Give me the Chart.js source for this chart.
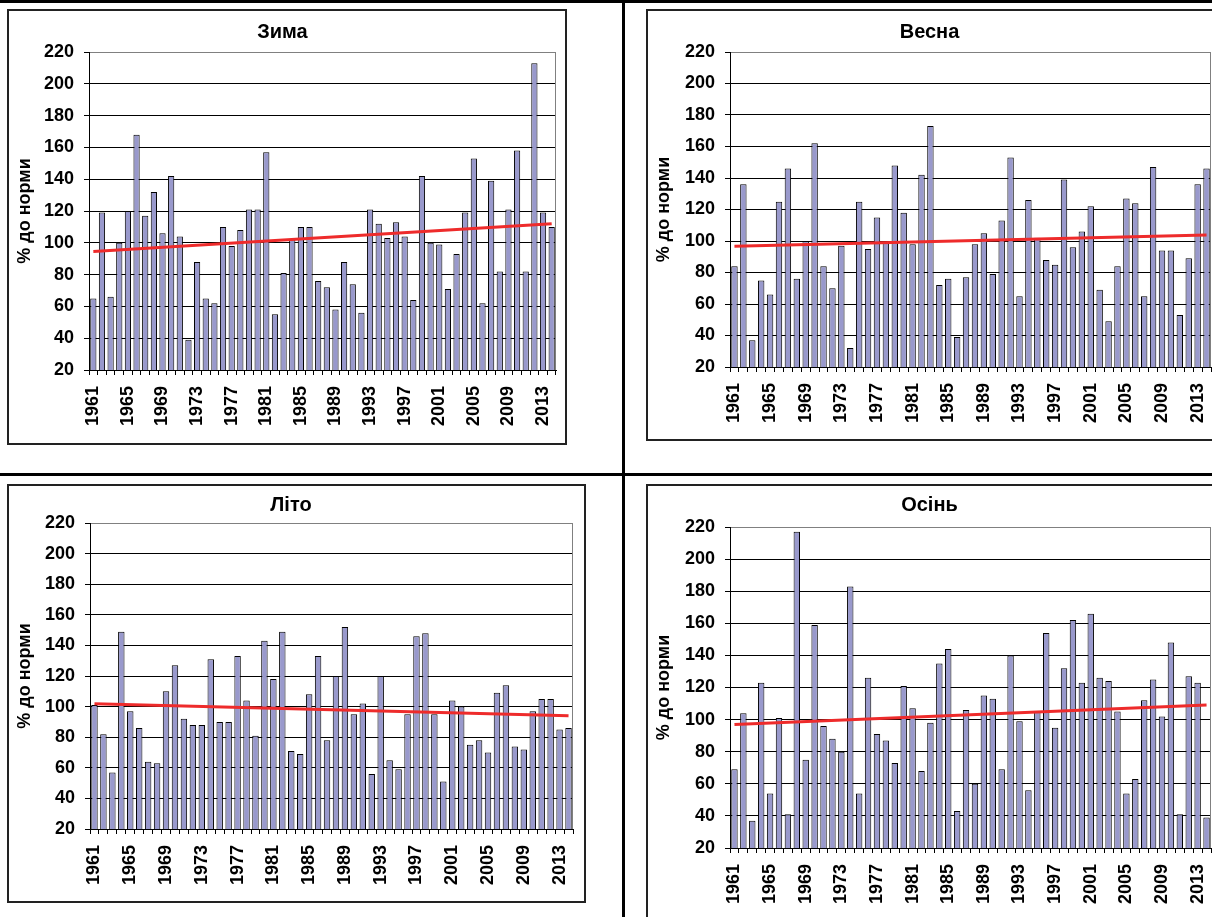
<!DOCTYPE html>
<html>
<head>
<meta charset="utf-8">
<script src="https://cdn.jsdelivr.net/npm/chart.js@4.4.1/dist/chart.umd.min.js"></script>
<style>
  html, body { margin: 0; padding: 0; background: #fff; }
  body { width: 1212px; height: 917px; overflow: hidden; position: relative; }
  .rule { position: absolute; background: #000; }
  .panel { position: absolute; border: 2px solid #222; background: #fff; }
  .panel canvas { display: block; }
</style>
</head>
<body>
<div class="rule" style="left:0;top:0;width:1212px;height:3px"></div>
<div class="rule" style="left:0;top:473px;width:1212px;height:3px"></div>
<div class="rule" style="left:622px;top:0;width:3px;height:917px"></div>

<div class="panel" style="left:7px;top:9px"><canvas id="winter" width="556" height="432"></canvas></div>
<div class="panel" style="left:646px;top:9px"><canvas id="spring" width="572" height="428"></canvas></div>
<div class="panel" style="left:7px;top:484px"><canvas id="summer" width="575" height="415"></canvas></div>
<div class="panel" style="left:646px;top:484px"><canvas id="autumn" width="572" height="434"></canvas></div>

<script>
// роки 1961-2014
const years = ['1961','1962','1963','1964','1965','1966','1967','1968','1969','1970',
  '1971','1972','1973','1974','1975','1976','1977','1978','1979','1980',
  '1981','1982','1983','1984','1985','1986','1987','1988','1989','1990',
  '1991','1992','1993','1994','1995','1996','1997','1998','1999','2000',
  '2001','2002','2003','2004','2005','2006','2007','2008','2009','2010',
  '2011','2012','2013','2014'];

// % до норми по сезонах
const winterValues = [65,119,66,100,120,168,117,132,106,142,104,39,88,65,62,110,98,108,121,121,
  157,55,81,102,110,110,76,72,58,88,74,56,121,112,103,113,104,64,142,100,
  99,71,93,119,153,62,139,82,121,158,82,213,119,110];
const springValues = [84,136,37,75,66,125,146,76,100,162,84,70,97,32,125,95,115,99,148,118,
  98,142,173,72,76,39,77,98,105,79,113,153,65,126,102,88,85,139,96,106,
  122,69,49,84,127,124,65,147,94,94,53,89,136,146];
const summerValues = [101,82,57,149,97,86,64,63,110,127,92,88,88,131,90,90,133,104,81,143,
  118,149,71,69,108,133,78,120,152,95,102,56,120,65,59,95,146,148,95,51,
  104,100,75,78,70,109,114,74,72,97,105,105,85,86];
const autumnValues = [69,104,37,123,54,101,41,217,75,159,96,88,80,183,54,126,91,87,73,121,
  107,68,98,135,144,43,106,60,115,113,69,140,99,56,105,154,95,132,162,123,
  166,126,124,105,54,63,112,125,102,148,41,127,123,39];

// лінійний тренд: значення на початку і в кінці періоду
const winterTrend = [94.5, 112];
const springTrend = [96.6, 103.8];
const summerTrend = [101.8, 94];
const autumnTrend = [96.9, 109.1];

const yTicks = [20, 220, 20]; // min, max, крок

Chart.defaults.font.family = 'Arial, "Liberation Sans", sans-serif';
Chart.defaults.font.weight = 'bold';
Chart.defaults.color = '#000';

// сіра рамка області побудови справа
const plotFrame = {
  id: 'plotFrame',
  beforeDatasetsDraw(chart) {
    const a = chart.chartArea, ctx = chart.ctx;
    ctx.save();
    ctx.strokeStyle = '#808080';
    ctx.lineWidth = 1;
    ctx.beginPath();
    ctx.moveTo(Math.round(a.right) - 0.5, a.top);
    ctx.lineTo(Math.round(a.right) - 0.5, a.bottom);
    ctx.stroke();
    ctx.restore();
  }
};

function makeChart(id, title, values, trend, geo) {
  const ctx = document.getElementById(id).getContext('2d');
  return new Chart(ctx, {
    data: {
      labels: years,
      datasets: [{
        type: 'line',
        data: [{ x: years[0], y: trend[0] }, { x: years[years.length - 1], y: trend[1] }],
        borderColor: '#ee2b2b',
        borderWidth: 3,
        pointRadius: 0,
        order: 0
      }, {
        type: 'bar',
        data: values,
        backgroundColor: '#9999cc',
        borderColor: '#000',
        borderWidth: 1,
        barPercentage: 0.72,
        categoryPercentage: 1,
        order: 1
      }]
    },
    options: {
      responsive: false,
      animation: false,
      layout: { padding: { left: 0, right: geo.padRight, top: 0, bottom: 0 } },
      plugins: {
        legend: { display: false },
        tooltip: { enabled: false },
        title: {
          display: true,
          text: title,
          font: { size: 20, weight: 'bold' },
          color: '#000',
          padding: { top: geo.titleTop, bottom: geo.titleBottom }
        }
      },
      scales: {
        x: {
          type: 'category',
          offset: true,
          grid: { offset: true, drawOnChartArea: false, drawTicks: true, tickLength: 5, tickColor: '#000' },
          border: { color: '#000', width: 1 },
          ticks: {
            autoSkip: false,
            minRotation: 90,
            maxRotation: 90,
            padding: 11,
            font: { size: 18, weight: 'bold' },
            callback: (v, i) => (i % 4 === 0 ? years[i] : '')
          },
          afterFit: s => {
            s.height = geo.xHeight;
            s.paddingLeft = 0;
            s.paddingRight = 0;
          }
        },
        y: {
          min: yTicks[0],
          max: yTicks[1],
          ticks: { stepSize: yTicks[2], padding: 10, font: { size: 18, weight: 'bold' } },
          grid: {
            color: c => (c.tick && c.tick.value === yTicks[1] ? '#808080' : '#000'),
            tickLength: 5,
            tickColor: '#000',
            lineWidth: 1
          },
          border: { color: '#000', width: 1 },
          title: {
            display: true,
            text: '% до норми',
            font: { size: 18, weight: 'bold' },
            padding: { top: 5, bottom: 0 }
          },
          afterFit: s => { s.width = geo.yWidth; }
        }
      }
    },
    plugins: [plotFrame]
  });
}

makeChart('winter', 'Зима', winterValues, winterTrend,
  { yWidth: 80, xHeight: 73, padRight: 9, titleTop: 9, titleBottom: 8 });
makeChart('spring', 'Весна', springValues, springTrend,
  { yWidth: 82, xHeight: 72, padRight: 9, titleTop: 9, titleBottom: 8 });
makeChart('summer', 'Літо', summerValues, summerTrend,
  { yWidth: 81, xHeight: 72, padRight: 11, titleTop: 7, titleBottom: 6 });
makeChart('autumn', 'Осінь', autumnValues, autumnTrend,
  { yWidth: 82, xHeight: 72, padRight: 9, titleTop: 7, titleBottom: 10 });
</script>
</body>
</html>
